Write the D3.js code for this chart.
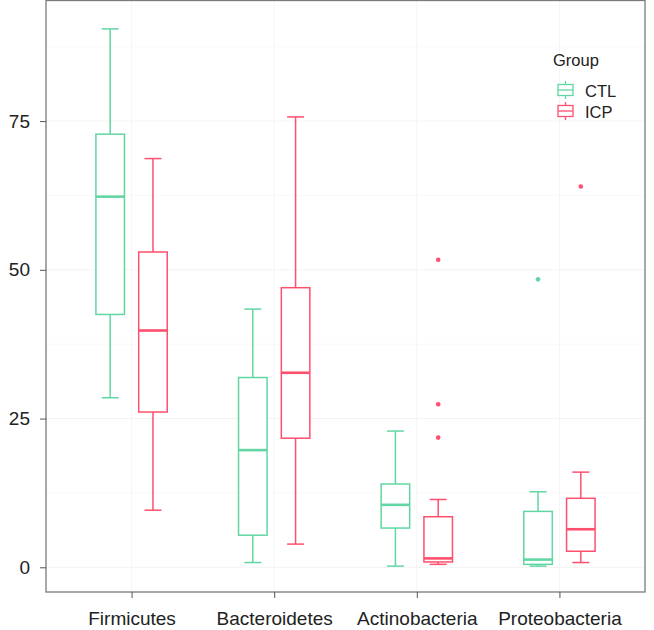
<!DOCTYPE html>
<html>
<head>
<meta charset="utf-8">
<script src="https://cdn.jsdelivr.net/npm/d3@7"></script>
<style>
  body { margin: 0; background: #fff; }
  text { font-family: "Liberation Sans", Arial, sans-serif; fill: #222; }
</style>
</head>
<body>
<div id="vis"></div>
<script>
// data: [lower whisker, Q1, median, Q3, upper whisker]
const phyla = ["Firmicutes", "Bacteroidetes", "Actinobacteria", "Proteobacteria"];
const groups = ["CTL", "ICP"];
const ctlStats = [
  [28.5, 42.5, 62.3, 72.8, 90.5],
  [0.8, 5.4, 19.7, 31.9, 43.4],
  [0.2, 6.6, 10.5, 14.0, 22.9],
  [0.2, 0.5, 1.3, 9.4, 12.7]
];
const icpStats = [
  [9.6, 26.1, 39.8, 53.0, 68.7],
  [3.9, 21.7, 32.7, 47.0, 75.7],
  [0.5, 0.9, 1.5, 8.5, 11.4],
  [0.8, 2.7, 6.4, 11.6, 16.0]
];
const ctlOutliers = [[], [], [], [48.4]];
const icpOutliers = [[], [], [51.7, 27.4, 21.8], [64.0]];
const yTicks = [0, 25, 50, 75];
const colors = {CTL: "#62d6a2", ICP: "#ff4f6e"};

const WIDTH = 654, HEIGHT = 630;
const PANEL = {left: 46, right: 645, top: 0.5, bottom: 592};

const svg = d3.select("#vis").append("svg")
    .attr("width", WIDTH)
    .attr("height", HEIGHT);

const X = d3.scaleLinear().domain([0.4, 4.6]).range([PANEL.left, PANEL.right]);
const Y = d3.scaleLinear().domain([-4.15, 95.27]).range([PANEL.bottom, PANEL.top]);

// faint grid
const minor = d3.range(-0, 100, 12.5).filter(v => v % 25 !== 0);
svg.append("g").selectAll("line").data(yTicks.concat(minor)).enter().append("line")
    .attr("x1", PANEL.left).attr("x2", PANEL.right)
    .attr("y1", d => Y(d)).attr("y2", d => Y(d))
    .attr("stroke", d => d % 25 === 0 ? "#f3f3f3" : "#f9f9f9");
svg.append("g").selectAll("line").data(phyla).enter().append("line")
    .attr("x1", (d, i) => X(i + 1)).attr("x2", (d, i) => X(i + 1))
    .attr("y1", PANEL.top).attr("y2", PANEL.bottom)
    .attr("stroke", "#f5f5f5");

// boxes
const OFFSET = 0.15, BOXW = 0.2;
const boxData = [];
phyla.forEach((p, i) => {
  boxData.push({i: i, g: "CTL", s: ctlStats[i], out: ctlOutliers[i], dx: -OFFSET});
  boxData.push({i: i, g: "ICP", s: icpStats[i], out: icpOutliers[i], dx: OFFSET});
});

const boxes = svg.append("g").selectAll("g").data(boxData).enter().append("g")
    .attr("stroke", d => colors[d.g])
    .attr("fill", "none");

const cx = d => X(d.i + 1 + d.dx);

boxes.append("line") // upper whisker
    .attr("x1", cx).attr("x2", cx)
    .attr("y1", d => Y(d.s[3])).attr("y2", d => Y(d.s[4]))
    .attr("stroke-width", 1.5);
boxes.append("line")
    .attr("x1", cx).attr("x2", cx)
    .attr("y1", d => Y(d.s[1])).attr("y2", d => Y(d.s[0]))
    .attr("stroke-width", 1.5);
boxes.append("line") // caps
    .attr("x1", d => cx(d) - 8.5).attr("x2", d => cx(d) + 8.5)
    .attr("y1", d => Y(d.s[4])).attr("y2", d => Y(d.s[4]))
    .attr("stroke-width", 1.5);
boxes.append("line")
    .attr("x1", d => cx(d) - 8.5).attr("x2", d => cx(d) + 8.5)
    .attr("y1", d => Y(d.s[0])).attr("y2", d => Y(d.s[0]))
    .attr("stroke-width", 1.5);
boxes.append("rect")
    .attr("x", d => X(d.i + 1 + d.dx - BOXW / 2))
    .attr("width", X(BOXW) - X(0))
    .attr("y", d => Y(d.s[3]))
    .attr("height", d => Y(d.s[1]) - Y(d.s[3]))
    .attr("fill", "#fff")
    .attr("stroke-width", 1.5);
boxes.append("line") // median
    .attr("x1", d => X(d.i + 1 + d.dx - BOXW / 2))
    .attr("x2", d => X(d.i + 1 + d.dx + BOXW / 2))
    .attr("y1", d => Y(d.s[2])).attr("y2", d => Y(d.s[2]))
    .attr("stroke-width", 2.6);
boxes.selectAll("circle").data(d => d.out.map(v => ({v: v, d: d}))).enter().append("circle")
    .attr("cx", o => cx(o.d))
    .attr("cy", o => Y(o.v))
    .attr("r", 2.3)
    .attr("stroke", "none")
    .attr("fill", o => colors[o.d.g]);

// panel border
svg.append("rect")
    .attr("x", PANEL.left).attr("y", PANEL.top)
    .attr("width", PANEL.right - PANEL.left)
    .attr("height", PANEL.bottom - PANEL.top)
    .attr("fill", "none")
    .attr("stroke", "#7a7a7a")
    .attr("stroke-width", 1.3);

// axes
const yAxis = svg.append("g")
    .attr("transform", "translate(" + PANEL.left + ",0)")
    .call(d3.axisLeft(Y).tickValues(yTicks).tickSize(6).tickPadding(10));
yAxis.select(".domain").remove();
yAxis.selectAll("line").attr("stroke", "#555");
yAxis.selectAll("text").attr("font-size", "19px").style("fill", "#222");

const xAxis = svg.append("g")
    .attr("transform", "translate(0," + PANEL.bottom + ")")
    .call(d3.axisBottom(X).tickValues([1, 2, 3, 4]).tickFormat((d, i) => phyla[i])
          .tickSize(6).tickPadding(14));
xAxis.select(".domain").remove();
xAxis.selectAll("line").attr("stroke", "#555");
xAxis.selectAll("text").attr("font-size", "19px").style("fill", "#222");

// legend
const legend = svg.append("g").attr("transform", "translate(553,0)");
legend.append("text").attr("x", 0).attr("y", 66).attr("font-size", "16.5px").text("Group");
groups.forEach((g, k) => {
  const ly = 90 + k * 21;
  const key = legend.append("g").attr("stroke", colors[g]).attr("fill", "none").attr("stroke-width", 1.3);
  key.append("line").attr("x1", 12.5).attr("x2", 12.5).attr("y1", ly - 9).attr("y2", ly + 9);
  key.append("rect").attr("x", 5).attr("y", ly - 5.5).attr("width", 15).attr("height", 11).attr("fill", "#fff");
  key.append("line").attr("x1", 5).attr("x2", 20).attr("y1", ly).attr("y2", ly);
  legend.append("text").attr("x", 32).attr("y", ly + 6.5).attr("font-size", "16.5px").text(g);
});
</script>
</body>
</html>
